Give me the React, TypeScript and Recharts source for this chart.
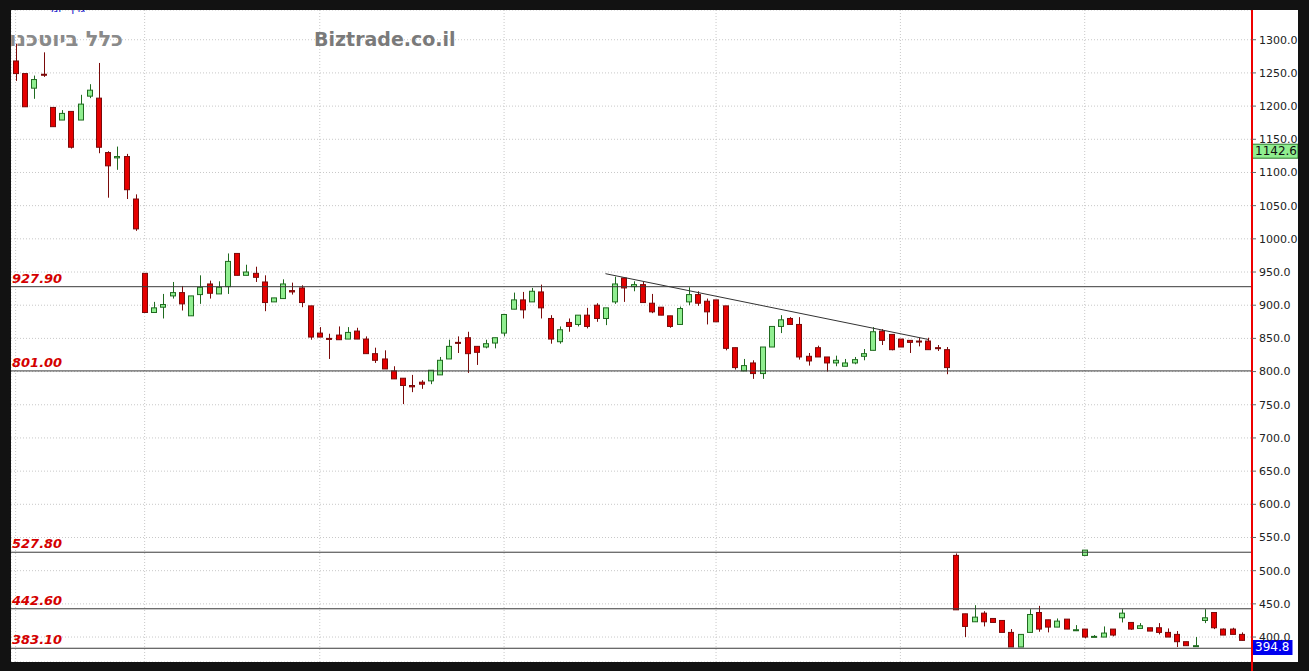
import React from "react";
import { ComposedChart, Bar, XAxis, YAxis, CartesianGrid, ReferenceLine } from "recharts";

// daily OHLC
const opens = [
  1268, 1249, 1227, 1248, 1198, 1179, 1192, 1179, 1215, 1212, 1130, 1122, 1124, 1060,
  948, 889, 897, 914, 919, 884, 916, 932, 917, 928, 978, 945, 948, 935, 905, 910, 922, 926, 899,
  858, 850, 855, 849, 861, 849, 827, 819, 801, 790, 779, 784, 786, 795, 819, 844, 851, 838, 837, 843,
  858, 894, 908, 905, 920, 880, 845, 874, 871, 885, 900, 880, 905, 941, 928, 931, 903, 897, 884, 871, 905, 916, 906,
  908, 899, 836, 801, 813, 797, 837, 868, 880, 871, 823, 836, 822, 813, 808, 813, 823, 832, 861, 856,
  849, 847, 846, 846, 836, 833, 523, 435, 423, 436, 428, 425, 407, 385, 407, 437, 426, 415, 427, 410,
  412, 400, 400, 412, 429, 422, 413, 414, 414, 407, 404, 393, 386, 425, 437, 412, 412, 404,
];
const highs = [
  1294, 1249, 1246, 1281, 1198, 1194, 1192, 1217, 1233, 1265, 1132, 1139, 1128, 1067,
  948, 905, 917, 935, 929, 914, 945, 937, 936, 978, 978, 961, 958, 945, 911, 939, 934, 930, 899,
  867, 857, 868, 867, 866, 853, 836, 832, 808, 790, 795, 787, 802, 822, 848, 853, 860, 838, 848, 851,
  886, 919, 920, 926, 931, 885, 868, 880, 885, 896, 903, 896, 943, 941, 936, 935, 917, 897, 884, 898, 927, 921, 910,
  908, 899, 836, 819, 817, 837, 868, 885, 882, 882, 828, 839, 822, 824, 819, 822, 834, 867, 864, 856,
  849, 847, 851, 851, 840, 837, 526, 435, 448, 439, 428, 425, 412, 404, 442, 447, 426, 428, 427, 418,
  412, 403, 416, 412, 442, 422, 421, 414, 421, 413, 409, 393, 400, 442, 437, 413, 414, 407,
];
const lows = [
  1238, 1199, 1211, 1244, 1169, 1179, 1136, 1179, 1212, 1129, 1062, 1104, 1060, 1012,
  889, 889, 880, 910, 892, 884, 902, 910, 917, 917, 945, 945, 935, 891, 905, 910, 916, 897, 848,
  852, 819, 848, 849, 849, 827, 813, 804, 789, 751, 769, 774, 781, 795, 819, 828, 798, 810, 835, 835,
  853, 894, 880, 905, 880, 842, 842, 860, 868, 865, 875, 870, 902, 905, 921, 904, 888, 885, 866, 871, 900, 899, 871,
  875, 832, 803, 801, 789, 789, 837, 858, 871, 818, 809, 822, 800, 808, 808, 811, 817, 832, 840, 832,
  837, 828, 838, 833, 831, 796, 441, 400, 423, 416, 422, 407, 385, 385, 407, 408, 407, 415, 412, 409,
  398, 400, 400, 401, 422, 411, 413, 409, 404, 400, 385, 387, 386, 421, 412, 403, 404, 395,
];
const closes = [
  1249, 1199, 1240, 1247, 1169, 1189, 1138, 1203, 1224, 1138, 1110, 1124, 1074, 1015,
  889, 896, 901, 919, 902, 914, 927, 918, 927, 966, 945, 950, 942, 904, 911, 932, 920, 904, 852,
  852, 849, 848, 859, 849, 827, 817, 804, 789, 779, 777, 781, 802, 817, 838, 843, 827, 829, 842, 851,
  886, 908, 893, 921, 896, 849, 863, 868, 885, 868, 880, 896, 932, 926, 931, 904, 890, 885, 868, 895, 916, 903, 890,
  875, 835, 806, 809, 797, 837, 868, 878, 871, 822, 816, 822, 813, 817, 813, 818, 827, 860, 847, 833,
  837, 844, 846, 833, 835, 806, 441, 416, 430, 423, 422, 407, 385, 404, 434, 412, 415, 424, 412, 411,
  400, 401, 406, 403, 436, 412, 417, 409, 407, 400, 393, 387, 387, 429, 414, 403, 404, 395,
];

// the stray green tick sitting on the 527.80 line
const spikeIndex = 116;
const spikeOpen = 523;
const spikeClose = 531;

const monthStarts = [0, 14, 33, 53, 76, 96, 116];
const levels = [927.9, 801.0, 527.8, 442.6, 383.1];
const yTicks = [400, 450, 500, 550, 600, 650, 700, 750, 800, 850, 900, 950, 1000, 1050, 1100, 1150, 1200, 1250, 1300];
const trendStart = { i: 64, price: 947.5 };
const trendEnd = { i: 99, price: 848.5 };
const markPrice = 1142.6;
const lastPrice = 394.8;

const data = opens.map((o, i) => ({
  t: i,
  open: o,
  high: highs[i],
  low: lows[i],
  close: closes[i],
  xOpen: i === spikeIndex ? spikeOpen : null,
  xClose: i === spikeIndex ? spikeClose : null,
}));

const RED = "#e60000";
const RED_EDGE = "#7a0a0a";
const GREEN = "#90ee90";
const GREEN_EDGE = "#1f6a1f";

const Candle = (props: any) => {
  const { x, y, width, height, payload } = props;
  if (!payload) return null;
  const top = Math.min(y, y + height);
  const h = Math.abs(height);
  const { open, close, high, low } = payload;
  const ratio = h / (high - low || 1);
  const py = (v: number) => top + (high - v) * ratio;
  const cx = Math.round(x + width / 2) + 0.5;
  const up = close > open;
  const fill = up ? GREEN : RED;
  const edge = up ? GREEN_EDGE : RED_EDGE;
  const bTop = py(Math.max(open, close));
  const bBot = py(Math.min(open, close));
  const bx = Math.round(x) + 0.5;
  const bw = Math.round(width) - 1;
  return (
    <g>
      <line x1={cx} x2={cx} y1={py(high)} y2={py(low)} stroke={edge} strokeWidth={1} />
      <rect x={bx} y={bTop} width={bw} height={Math.max(1, bBot - bTop)} fill={fill} stroke={edge} strokeWidth={1} />
      {payload.xOpen != null && (
        <rect
          x={bx}
          y={py(payload.xClose)}
          width={bw}
          height={py(payload.xOpen) - py(payload.xClose)}
          fill={GREEN}
          stroke={GREEN_EDGE}
          strokeWidth={1}
        />
      )}
    </g>
  );
};

const LevelLabel = (props: any) => {
  const { viewBox, value } = props;
  if (!viewBox) return null;
  return (
    <text
      x={viewBox.x + 1}
      y={viewBox.y - 4}
      fill="#d40000"
      fontSize={13}
      fontStyle="italic"
      fontWeight="bold"
      fontFamily="DejaVu Sans"
    >
      {value}
    </text>
  );
};

const PriceBox = ({ viewBox, value, bg, color, w }: any) => {
  if (!viewBox) return null;
  const x0 = viewBox.x + viewBox.width;
  return (
    <g>
      <rect x={x0} y={viewBox.y} width={w} height={14} fill={bg} stroke={bg === GREEN ? "#2c7a2c" : bg} />
      <text x={x0 + 3} y={viewBox.y + 11} fill={color} fontSize={12} fontFamily="DejaVu Sans">
        {value}
      </text>
    </g>
  );
};

export default function App() {
  return (
    <div style={{ position: "fixed", left: 0, top: 0, width: 1309, height: 671, background: "#121212", overflow: "hidden" }}>
      <div style={{ position: "absolute", left: 11, top: 10, width: 1287, height: 652, background: "#fff" }} />
      <div style={{ position: "absolute", left: 1251, top: 662, width: 2, height: 9, background: "#e00" }} />
      <div style={{ position: "absolute", left: 11, top: 10 }}>
        <ComposedChart width={1287} height={652} data={data} margin={{ top: 0, right: 0, bottom: 0, left: 0 }}>
          <CartesianGrid stroke="#c8c8c8" strokeDasharray="1 2" />
          <XAxis dataKey="t" type="category" hide ticks={monthStarts} interval={0} padding={{ left: 0, right: 6 }} />
          <YAxis
            orientation="right"
            width={46}
            domain={[362.4, 1344.8]}
            ticks={yTicks}
            interval={0}
            allowDataOverflow
            axisLine={{ stroke: "#e00", strokeWidth: 2 }}
            tickLine={{ stroke: "#666" }}
            tickSize={4}
            tickMargin={3}
            tick={{ fill: "#222", fontSize: 11, fontFamily: "DejaVu Sans", textAnchor: "start" }}
            tickFormatter={(v: number) => v.toFixed(1)}
          />
          {levels.map((lv) => (
            <ReferenceLine
              key={"l" + lv}
              y={lv}
              stroke="#3a3a3a"
              strokeWidth={1}
              label={<LevelLabel value={lv.toFixed(2)} />}
            />
          ))}
          <ReferenceLine
            segment={[
              { x: trendStart.i, y: trendStart.price },
              { x: trendEnd.i, y: trendEnd.price },
            ]}
            stroke="#333"
            strokeWidth={1}
          />
          <Bar
            dataKey={(d: any) => [d.low, d.high]}
            barSize={6}
            shape={<Candle />}
            isAnimationActive={false}
          />
          <ReferenceLine
            y={markPrice}
            stroke="none"
            label={<PriceBox value={markPrice.toFixed(1)} bg={GREEN} color="#111" w={46} />}
          />
          <ReferenceLine
            y={lastPrice}
            stroke="none"
            label={<PriceBox value={lastPrice.toFixed(1)} bg="#0000ee" color="#fff" w={40} />}
          />
        </ComposedChart>
      </div>
      <div
        style={{
          position: "absolute",
          left: 25,
          top: 10,
          width: 60,
          height: 4,
          overflow: "hidden",
          color: "#2222cc",
          fontFamily: "DejaVu Sans",
          fontSize: 11,
          lineHeight: "11px",
        }}
      >
        <div style={{ marginTop: -7, direction: "rtl", textAlign: "right" }}>גרף יומי</div>
      </div>
      <div
        style={{
          position: "absolute",
          left: 11,
          top: 27,
          width: 112,
          height: 24,
          overflow: "hidden",
          direction: "rtl",
          whiteSpace: "nowrap",
          color: "#8a8a8a",
          fontFamily: "DejaVu Sans",
          fontWeight: "bold",
          fontSize: 21,
          lineHeight: "24px",
        }}
      >
        כלל ביוטכנולוגיה
      </div>
      <div
        style={{
          position: "absolute",
          left: 314,
          top: 28,
          color: "#7a7a7a",
          fontFamily: "DejaVu Sans",
          fontWeight: "bold",
          fontSize: 19,
          lineHeight: "22px",
          whiteSpace: "nowrap",
        }}
      >
        Biztrade.co.il
      </div>
    </div>
  );
}
